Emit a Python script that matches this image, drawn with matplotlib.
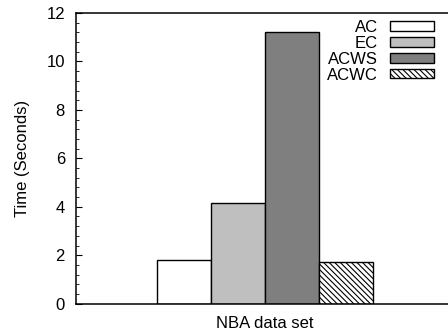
import matplotlib
matplotlib.use("Agg")
import matplotlib.pyplot as plt
from matplotlib.ticker import MultipleLocator

plt.rcParams['font.family'] = ['Liberation Sans', 'DejaVu Sans']
plt.rcParams['hatch.linewidth'] = 0.8

categories = ["NBA data set"]
series = ["AC", "EC", "ACWS", "ACWC"]
values = [1.79, 4.16, 11.23, 1.71]
colors = ["white", "#bfbfbf", "#7f7f7f", "white"]
hatches = [None, None, None, "\\" * 6]

fig = plt.figure(figsize=(4.48, 3.30), dpi=100)
ax = fig.add_axes([76/448, 1 - 303.7/330, (454-76)/448, (303.7-13)/330])

w = 0.2857
n = len(series)
for i, (s, v, c, h) in enumerate(zip(series, values, colors, hatches)):
    x = 0 + (i - (n - 1) / 2) * w
    ax.bar(x, v, width=w, color=c, edgecolor="black", linewidth=1.0,
           hatch=h, label=s)

ax.set_xlim(-1, 1)
ax.set_ylim(0, 12)
ax.set_xticks([])
ax.set_xlabel(categories[0], fontsize=12, labelpad=9)
ax.set_ylabel("Time (Seconds)", fontsize=12, labelpad=12)
ax.yaxis.set_major_locator(MultipleLocator(2))
ax.yaxis.set_minor_locator(MultipleLocator(0.4))
ax.tick_params(axis='y', which='major', direction='in', length=4, labelsize=12, pad=8)
ax.tick_params(axis='y', which='minor', direction='in', length=2)
ax.spines['right'].set_visible(False)
for sp in ['left', 'top', 'bottom']:
    ax.spines[sp].set_linewidth(1.1)

leg = ax.legend(loc='upper right', bbox_to_anchor=(434/448, 1 - 20/330),
                bbox_transform=fig.transFigure, frameon=False,
                markerfirst=False, fontsize=12, handlelength=2.65,
                handleheight=0.5, labelspacing=0.05, handletextpad=0.7,
                borderpad=0, borderaxespad=0)
plt.savefig("out.png", dpi=100)
